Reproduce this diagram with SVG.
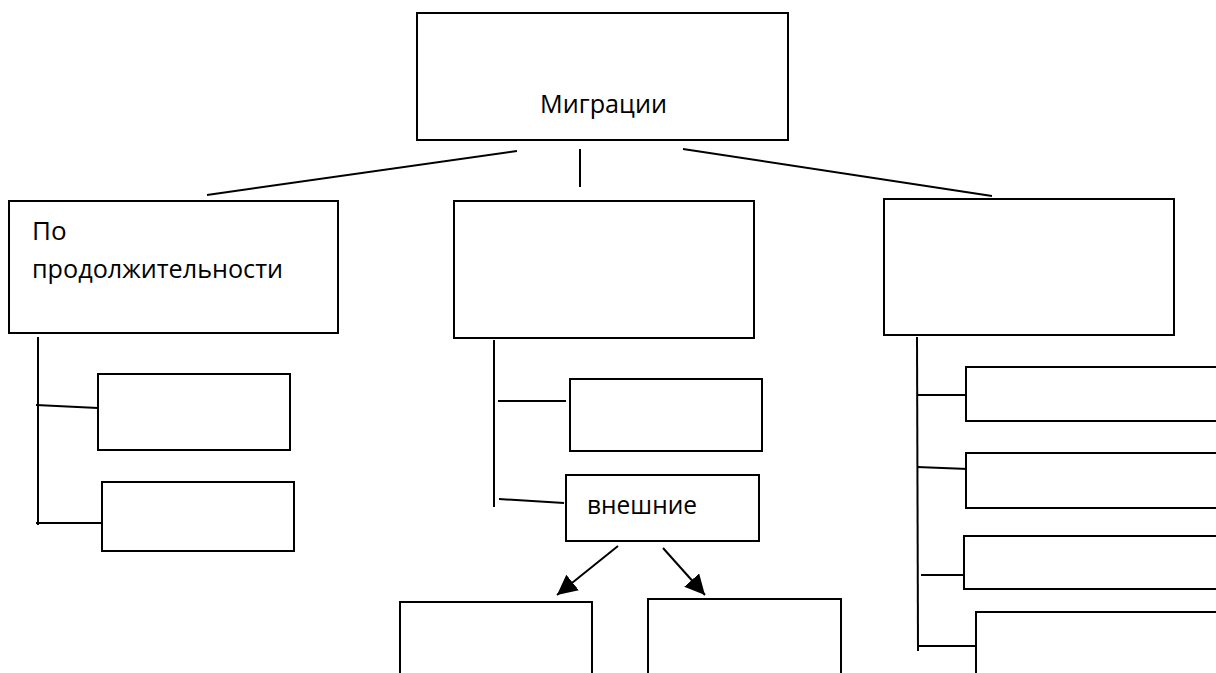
<svg xmlns="http://www.w3.org/2000/svg" width="1216" height="673" viewBox="0 0 1216 673">
<defs>
<style>
.box{fill:#fff;stroke:#000;stroke-width:2}
.ln{fill:none;stroke:#000;stroke-width:2}
.t{font-family:"Open Sans","Noto Sans","DejaVu Sans",sans-serif;font-size:26px;fill:#000}
</style>
<marker id="ah2" viewBox="0 0 10 10" refX="10" refY="5" markerWidth="20" markerHeight="20" markerUnits="userSpaceOnUse" orient="auto">
<path d="M0,0 L10,5 L0,10 z" fill="#000"/>
</marker>
</defs>
<rect width="1216" height="673" fill="#fff"/>
<g id="connectors">
<line class="ln" x1="517" y1="151" x2="207" y2="195"/>
<line class="ln" x1="580" y1="149" x2="580" y2="187"/>
<line class="ln" x1="683" y1="149" x2="992" y2="196"/>
<line class="ln" x1="38" y1="337" x2="38" y2="525"/>
<line class="ln" x1="36" y1="405" x2="98" y2="408"/>
<line class="ln" x1="36" y1="523" x2="102" y2="523"/>
<line class="ln" x1="494" y1="340" x2="494" y2="507"/>
<line class="ln" x1="498" y1="401" x2="566" y2="401"/>
<line class="ln" x1="499" y1="499" x2="564" y2="503"/>
<line class="ln" x1="618" y1="546" x2="557" y2="595" marker-end="url(#ah2)"/>
<line class="ln" x1="663" y1="548" x2="705" y2="595" marker-end="url(#ah2)"/>
<line class="ln" x1="917" y1="337" x2="918" y2="651"/>
<line class="ln" x1="917" y1="395" x2="966" y2="395"/>
<line class="ln" x1="917" y1="467" x2="968" y2="469"/>
<line class="ln" x1="921" y1="575" x2="964" y2="575"/>
<line class="ln" x1="918" y1="646" x2="976" y2="646"/>
</g>
<g id="n-migr">
<rect class="box" x="417" y="13" width="371" height="127"/>
<text class="t" x="540" y="113" textLength="127" lengthAdjust="spacingAndGlyphs">Миграции</text>
</g>
<g id="n-dur">
<rect class="box" x="9" y="201" width="329" height="132"/>
<text class="t" x="32" y="240">По</text>
<text class="t" x="32" y="278" textLength="251" lengthAdjust="spacingAndGlyphs">продолжительности</text>
</g>
<g id="n-mid">
<rect class="box" x="454" y="201" width="300" height="137"/>
</g>
<g id="n-right">
<rect class="box" x="884" y="199" width="290" height="136"/>
</g>
<g id="n-l1"><rect class="box" x="98" y="374" width="192" height="76"/></g>
<g id="n-l2"><rect class="box" x="102" y="482" width="192" height="69"/></g>
<g id="n-m1"><rect class="box" x="570" y="379" width="192" height="72"/></g>
<g id="n-ext">
<rect class="box" x="566" y="475" width="193" height="66"/>
<text class="t" x="587" y="514" textLength="110" lengthAdjust="spacingAndGlyphs">внешние</text>
</g>
<g id="n-b1"><rect class="box" x="400" y="602" width="192" height="90"/></g>
<g id="n-b2"><rect class="box" x="648" y="599" width="193" height="93"/></g>
<g id="n-r1"><rect class="box" x="966" y="367" width="270" height="54"/></g>
<g id="n-r2"><rect class="box" x="966" y="453" width="270" height="55"/></g>
<g id="n-r3"><rect class="box" x="964" y="536" width="272" height="53"/></g>
<g id="n-r4"><rect class="box" x="976" y="612" width="260" height="80"/></g>
</svg>
